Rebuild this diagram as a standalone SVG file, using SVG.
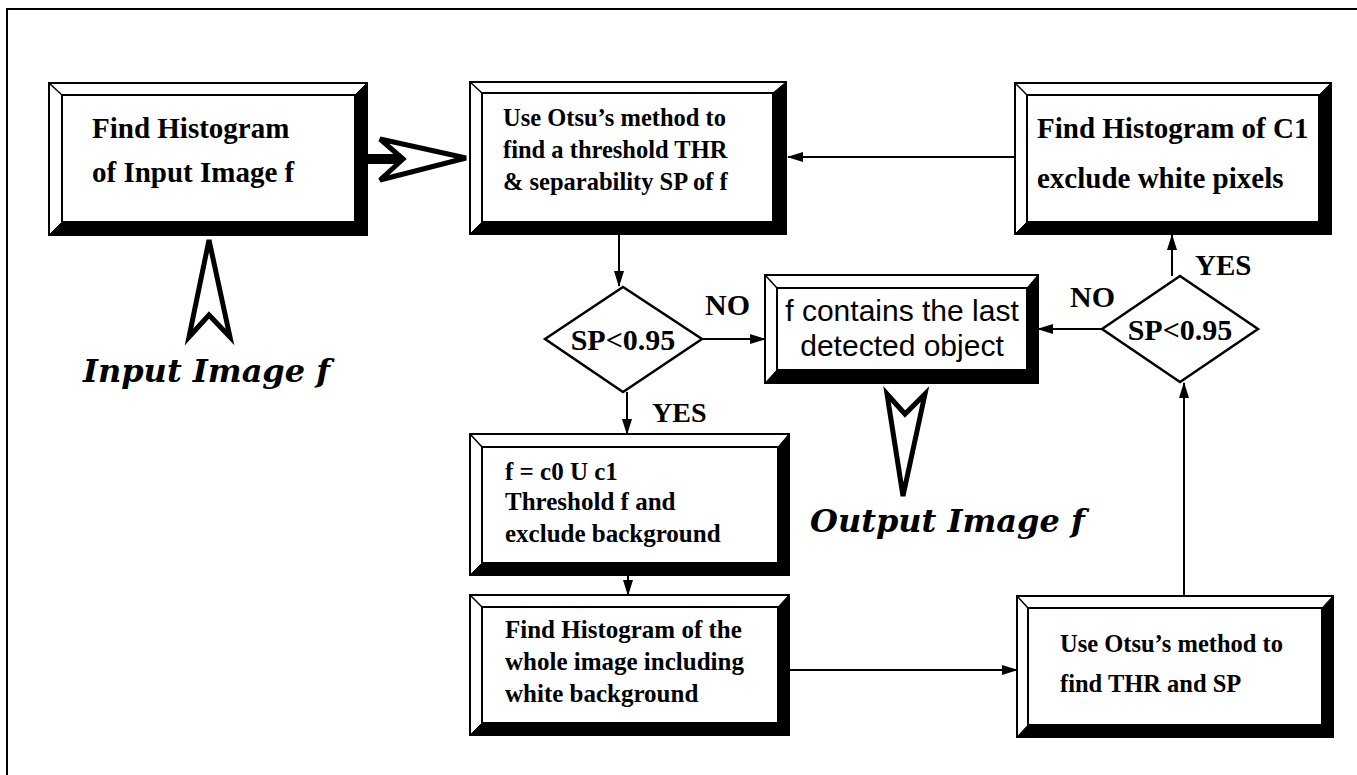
<svg xmlns="http://www.w3.org/2000/svg" width="1357" height="775" viewBox="0 0 1357 775">
<style>
.o{fill:#fff;stroke:#000;stroke-width:2}
.i{fill:#fff;stroke:#000;stroke-width:2}
.sh{fill:#000;stroke:#000;stroke-width:1}
.bv{stroke:#000;stroke-width:1.5;fill:none}
.t{font-family:"Liberation Serif","Times New Roman",serif;font-weight:bold;fill:#000}
.s{font-family:"Liberation Sans",Arial,sans-serif;fill:#000}
.big{font-family:"DejaVu Serif",serif;font-weight:bold;font-style:italic;font-size:32px;fill:#000}
.c{stroke:#000;stroke-width:2;fill:none}
.h{fill:#fff;stroke:#000;stroke-width:5;stroke-linejoin:miter}
.d{fill:#fff;stroke:#000;stroke-width:2.5}
</style>
<defs>
<marker id="ah" markerUnits="userSpaceOnUse" markerWidth="16" markerHeight="10" refX="15" refY="5" orient="auto">
<path d="M0,0 L16,5 L0,10 Z" fill="#000"/>
</marker>
</defs>
<rect width="1357" height="775" fill="#fff"/>
<path d="M7,775 V9 H1357" fill="none" stroke="#000" stroke-width="2"/>

<g id="connectors">
<path class="c" d="M1015,157 H788" marker-end="url(#ah)"/>
<path class="c" d="M619,234 V286" marker-end="url(#ah)"/>
<path class="c" d="M702,339 H765" marker-end="url(#ah)"/>
<path class="c" d="M627,392 V434" marker-end="url(#ah)"/>
<path class="c" d="M628,575 V595" marker-end="url(#ah)"/>
<path class="c" d="M789,670 H1017" marker-end="url(#ah)"/>
<path class="c" d="M1184,596 V383" marker-end="url(#ah)"/>
<path class="c" d="M1102,329 H1038" marker-end="url(#ah)"/>
<path class="c" d="M1172,276 V235" marker-end="url(#ah)"/>
<path d="M367,159 H403" stroke="#000" stroke-width="10"/>
<polygon class="h" points="403,159 380,139 466,158 380,180"/>
<polygon class="h" points="209,240 230,337 209,315 189,337"/>
<polygon class="h" points="887,394 905,414 925,394 903,496"/>
</g>

<g id="box1">
<rect class="o" x="49" y="83" width="318" height="152"/>
<rect class="i" x="62" y="95" width="293" height="127"/>
<polygon class="sh" points="367,83 367,235 49,235 62,222 355,222 355,95"/>
<line class="bv" x1="49" y1="83" x2="62" y2="95"/>
<text class="t" font-size="29" x="92" y="138">Find Histogram</text>
<text class="t" font-size="29" x="92" y="182">of Input Image f</text>
</g>

<g id="box2">
<rect class="o" x="470" y="82" width="316" height="152"/>
<rect class="i" x="482" y="93" width="291" height="129"/>
<polygon class="sh" points="786,82 786,234 470,234 482,222 773,222 773,93"/>
<line class="bv" x1="470" y1="82" x2="482" y2="93"/>
<text class="t" font-size="24.5" x="503" y="126">Use Otsu’s method to</text>
<text class="t" font-size="24.5" x="503" y="158">find a threshold THR</text>
<text class="t" font-size="24.5" x="503" y="190">&amp; separability SP of f</text>
</g>

<g id="box3">
<rect class="o" x="1015" y="83" width="316" height="151"/>
<rect class="i" x="1027" y="95" width="292" height="127"/>
<polygon class="sh" points="1331,83 1331,234 1015,234 1027,222 1319,222 1319,95"/>
<line class="bv" x1="1015" y1="83" x2="1027" y2="95"/>
<text class="t" font-size="29" x="1037" y="138">Find Histogram of C1</text>
<text class="t" font-size="29" x="1037" y="188">exclude white pixels</text>
</g>

<g id="decision1">
<polygon class="d" points="545,339 623,287 702,339 623,392"/>
<text class="t" font-size="30" x="623" y="350" text-anchor="middle">SP&lt;0.95</text>
<text class="t" font-size="30" x="705" y="315">NO</text>
<text class="t" font-size="28" x="652" y="422">YES</text>
</g>

<g id="box4">
<rect class="o" x="765" y="275" width="273" height="108"/>
<rect class="i" x="777" y="288" width="250" height="82"/>
<polygon class="sh" points="1038,275 1038,383 765,383 777,370 1027,370 1027,288"/>
<line class="bv" x1="765" y1="275" x2="777" y2="288"/>
<text class="s" font-size="30" x="902" y="321" text-anchor="middle">f contains the last</text>
<text class="s" font-size="30" x="902" y="356" text-anchor="middle">detected object</text>
</g>

<g id="decision2">
<polygon class="d" points="1102,329 1180,276 1258,329 1180,382"/>
<text class="t" font-size="30" x="1180" y="340" text-anchor="middle">SP&lt;0.95</text>
<text class="t" font-size="30" x="1070" y="307">NO</text>
<text class="t" font-size="29" x="1195" y="275">YES</text>
</g>

<g id="box5">
<rect class="o" x="470" y="434" width="319" height="141"/>
<rect class="i" x="482" y="447" width="296" height="116"/>
<polygon class="sh" points="789,434 789,575 470,575 482,563 778,563 778,447"/>
<line class="bv" x1="470" y1="434" x2="482" y2="447"/>
<text class="t" font-size="25" x="505" y="480">f = c0 U c1</text>
<text class="t" font-size="25" x="505" y="510">Threshold f and</text>
<text class="t" font-size="25" x="505" y="542">exclude background</text>
</g>

<g id="box7">
<rect class="o" x="470" y="595" width="319" height="140"/>
<rect class="i" x="482" y="607" width="296" height="116"/>
<polygon class="sh" points="789,595 789,735 470,735 482,723 778,723 778,607"/>
<line class="bv" x1="470" y1="595" x2="482" y2="607"/>
<text class="t" font-size="25" x="505" y="638">Find Histogram of the</text>
<text class="t" font-size="25" x="505" y="670">whole image including</text>
<text class="t" font-size="25" x="505" y="702">white background</text>
</g>

<g id="box6">
<rect class="o" x="1017" y="596" width="316" height="141"/>
<rect class="i" x="1028" y="608" width="294" height="117"/>
<polygon class="sh" points="1333,596 1333,737 1017,737 1028,725 1322,725 1322,608"/>
<line class="bv" x1="1017" y1="596" x2="1028" y2="608"/>
<text class="t" font-size="24.5" x="1060" y="652">Use Otsu’s method to</text>
<text class="t" font-size="24.5" x="1060" y="692">find THR and SP</text>
</g>

<g id="input-label">
<text class="big" x="83" y="382">Input Image f</text>
</g>
<g id="output-label">
<text class="big" x="810" y="532">Output Image f</text>
</g>
</svg>
